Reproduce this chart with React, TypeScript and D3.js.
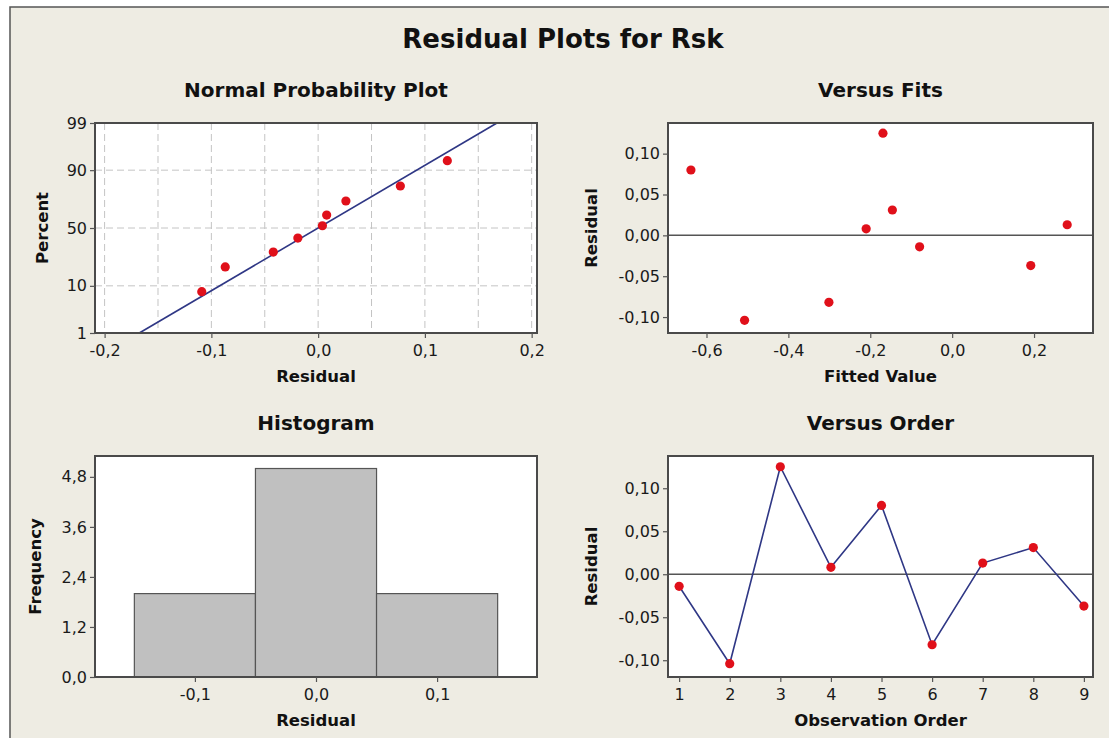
import * as d3 from "d3"
import { useEffect, useRef } from "react"

const observations = [1, 2, 3, 4, 5, 6, 7, 8, 9]
const residuals = [-0.014, -0.104, 0.125, 0.008, 0.08, -0.082, 0.013, 0.031, -0.037]
const fittedValues = [-0.0795, -0.507, -0.169, -0.21, -0.638, -0.301, 0.281, -0.146, 0.192]

// normal probability plot points
const probResiduals = [-0.109, -0.087, -0.042, -0.019, 0.004, 0.008, 0.026, 0.077, 0.121]
const probPercents = [7.9, 19.4, 29.7, 41.2, 52, 61.3, 72.5, 82.4, 93.2]
const fitMean = 0
const fitSd = 0.072

// histogram
const histBins = [
  [-0.15, -0.05],
  [-0.05, 0.05],
  [0.05, 0.15],
]
const histCounts = [2, 5, 2]

// ticks
const percentTicks = [1, 10, 50, 90, 99]
const percentGrid = [10, 50, 90]
const probXTicks = [-0.2, -0.1, 0, 0.1, 0.2]
const probXGrid = [-0.2, -0.15, -0.1, -0.05, 0, 0.05, 0.1, 0.15, 0.2]
const fitTicks = [-0.6, -0.4, -0.2, 0, 0.2]
const residualTicks = [-0.1, -0.05, 0, 0.05, 0.1]
const histXTicks = [-0.1, 0, 0.1]
const freqTicks = [0, 1.2, 2.4, 3.6, 4.8]

const W = 1109
const H = 738
const FONT = "'DejaVu Sans', Verdana, sans-serif"
const BG = "#eeece3"
const RED = "#e0101a"
const BLUE = "#2f3785"

const locale = d3.formatLocale({
  decimal: ",",
  thousands: ".",
  grouping: [3],
  currency: ["", ""],
  minus: "-",
})
const f1 = locale.format(".1f")
const f2 = locale.format(".2f")

// inverse normal cdf (Acklam)
const probit = (p: number) => {
  const a = [-39.69683028665376, 220.9460984245205, -275.9285104469687, 138.357751867269, -30.66479806614716, 2.506628277459239]
  const b = [-54.47609879822406, 161.5858368580409, -155.6989798598866, 66.80131188771972, -13.28068155288572]
  const c = [-0.007784894002430293, -0.3223964580411365, -2.400758277161838, -2.549732539343734, 4.374664141464968, 2.938163982698783]
  const d = [0.007784695709041462, 0.3224671290700398, 2.445134137142996, 3.754408661907416]
  const pl = 0.02425
  if (p < pl || p > 1 - pl) {
    const q = Math.sqrt(-2 * Math.log(p < pl ? p : 1 - p))
    const v =
      (((((c[0] * q + c[1]) * q + c[2]) * q + c[3]) * q + c[4]) * q + c[5]) /
      ((((d[0] * q + d[1]) * q + d[2]) * q + d[3]) * q + 1)
    return p < pl ? v : -v
  }
  const q = p - 0.5
  const r = q * q
  return (
    ((((((a[0] * r + a[1]) * r + a[2]) * r + a[3]) * r + a[4]) * r + a[5]) * q) /
    (((((b[0] * r + b[1]) * r + b[2]) * r + b[3]) * r + b[4]) * r + 1)
  )
}

type Box = { left: number; right: number; top: number; bottom: number }

const App = () => {
  const svgRef = useRef<SVGSVGElement>(null)

  useEffect(() => {
    if (!svgRef.current) return
    const svg = d3.select(svgRef.current)
    svg.selectAll("*").remove()

    svg.append("rect").attr("width", W).attr("height", H).attr("fill", "#fff")
    svg
      .append("rect")
      .attr("x", 10)
      .attr("y", 7)
      .attr("width", 1110)
      .attr("height", 745)
      .attr("fill", BG)
      .attr("stroke", "#555")
      .attr("stroke-width", 1.5)

    svg
      .append("text")
      .attr("x", 563)
      .attr("y", 48)
      .attr("text-anchor", "middle")
      .attr("font-family", FONT)
      .attr("font-weight", "bold")
      .attr("font-size", "26px")
      .attr("fill", "#111")
      .text("Residual Plots for Rsk")

    // draws panel background, title, axes, labels; returns group for marks
    const panel = (
      box: Box,
      title: string,
      xLabel: string,
      yLabel: string,
      yLabelX: number,
      xScale: d3.ScaleLinear<number, number>,
      yScale: d3.ScaleLinear<number, number>,
      xTicks: number[],
      yTicks: number[],
      xFmt: (d: number) => string,
      yFmt: (d: number) => string,
      drawMarks: (g: d3.Selection<SVGGElement, unknown, null, undefined>) => void,
    ) => {
      const g = svg.append("g")
      g.append("rect")
        .attr("x", box.left)
        .attr("y", box.top)
        .attr("width", box.right - box.left)
        .attr("height", box.bottom - box.top)
        .attr("fill", "#fff")

      drawMarks(g)

      g.append("rect")
        .attr("x", box.left)
        .attr("y", box.top)
        .attr("width", box.right - box.left)
        .attr("height", box.bottom - box.top)
        .attr("fill", "none")
        .attr("stroke", "#4a4a4a")
        .attr("stroke-width", 2)

      const xAxis = g
        .append("g")
        .attr("transform", `translate(0, ${box.bottom})`)
        .call(
          d3
            .axisBottom(xScale)
            .tickValues(xTicks)
            .tickFormat((d) => xFmt(+d))
            .tickSize(5)
            .tickSizeOuter(0)
            .tickPadding(7),
        )
      const yAxis = g
        .append("g")
        .attr("transform", `translate(${box.left}, 0)`)
        .call(
          d3
            .axisLeft(yScale)
            .tickValues(yTicks)
            .tickFormat((d) => yFmt(+d))
            .tickSize(5)
            .tickSizeOuter(0)
            .tickPadding(3),
        )
      ;[xAxis, yAxis].forEach((a) => {
        a.select(".domain").remove()
        a.selectAll("line").attr("stroke", "#555").attr("stroke-width", 1.2)
        a.selectAll("text")
          .attr("font-family", FONT)
          .attr("font-size", "16px")
          .attr("fill", "#1a1a1a")
      })

      const cx = (box.left + box.right) / 2
      g.append("text")
        .attr("x", cx)
        .attr("y", box.top - 26)
        .attr("text-anchor", "middle")
        .attr("font-family", FONT)
        .attr("font-weight", "bold")
        .attr("font-size", "20px")
        .attr("fill", "#111")
        .text(title)

      g.append("text")
        .attr("x", cx)
        .attr("y", box.bottom + 49)
        .attr("text-anchor", "middle")
        .attr("font-family", FONT)
        .attr("font-weight", "bold")
        .attr("font-size", "16.5px")
        .attr("fill", "#111")
        .text(xLabel)

      g.append("text")
        .attr("transform", `translate(${yLabelX}, ${(box.top + box.bottom) / 2}) rotate(-90)`)
        .attr("text-anchor", "middle")
        .attr("font-family", FONT)
        .attr("font-weight", "bold")
        .attr("font-size", "16.5px")
        .attr("fill", "#111")
        .text(yLabel)
    }

    const dots = (
      g: d3.Selection<SVGGElement, unknown, null, undefined>,
      xs: number[],
      ys: number[],
      x: (v: number) => number,
      y: (v: number) => number,
    ) => {
      g.selectAll(null)
        .data(xs)
        .join("circle")
        .attr("cx", (d) => x(d))
        .attr("cy", (_, i) => y(ys[i]))
        .attr("r", 4.6)
        .attr("fill", RED)
    }

    // Normal probability plot
    const probBox = { left: 95, right: 537, top: 123, bottom: 333 }
    const probX = d3.scaleLinear().domain([-0.209, 0.205]).range([probBox.left, probBox.right])
    const zScale = d3
      .scaleLinear()
      .domain([probit(0.01), probit(0.99)])
      .range([probBox.bottom, probBox.top])
    const probY = d3
      .scaleLinear()
      .domain([0, 100])
      .range([0, 1])
    const pctY = (p: number) => zScale(probit(probY(p)))
    const pctScale = d3.scaleLinear().domain([1, 99]).range([probBox.bottom, probBox.top])
    // axisLeft needs a scale: map ticks through the probit transform by a custom scale
    const pctAxisScale = Object.assign((v: number) => pctY(v), pctScale, {
      copy: () => pctAxisScale,
    }) as unknown as d3.ScaleLinear<number, number>

    panel(
      probBox,
      "Normal Probability Plot",
      "Residual",
      "Percent",
      48,
      probX,
      pctAxisScale,
      probXTicks,
      percentTicks,
      f1,
      (d) => String(d),
      (g) => {
        g.selectAll(null)
          .data(probXGrid)
          .join("line")
          .attr("x1", (d) => probX(d))
          .attr("x2", (d) => probX(d))
          .attr("y1", probBox.top)
          .attr("y2", probBox.bottom)
          .attr("stroke", "#c4c4c4")
          .attr("stroke-width", 1)
          .attr("stroke-dasharray", "7,4")
        g.selectAll(null)
          .data(percentGrid)
          .join("line")
          .attr("x1", probBox.left)
          .attr("x2", probBox.right)
          .attr("y1", (d) => pctY(d))
          .attr("y2", (d) => pctY(d))
          .attr("stroke", "#c4c4c4")
          .attr("stroke-width", 1)
          .attr("stroke-dasharray", "7,4")
        const zs = [probit(0.01), probit(0.99)]
        g.append("path")
          .datum(zs)
          .attr("fill", "none")
          .attr("stroke", BLUE)
          .attr("stroke-width", 1.6)
          .attr(
            "d",
            d3
              .line<number>()
              .x((z) => probX(fitMean + z * fitSd))
              .y((z) => zScale(z)),
          )
        dots(g, probResiduals, probPercents, probX, pctY)
      },
    )

    // Versus Fits
    const fitsBox = { left: 668, right: 1093, top: 123, bottom: 333 }
    const fitsX = d3.scaleLinear().domain([-0.694, 0.344]).range([fitsBox.left, fitsBox.right])
    const fitsY = d3.scaleLinear().domain([-0.1195, 0.1375]).range([fitsBox.bottom, fitsBox.top])
    panel(
      fitsBox,
      "Versus Fits",
      "Fitted Value",
      "Residual",
      597,
      fitsX,
      fitsY,
      fitTicks,
      residualTicks,
      f1,
      f2,
      (g) => {
        g.append("line")
          .attr("x1", fitsBox.left)
          .attr("x2", fitsBox.right)
          .attr("y1", fitsY(0))
          .attr("y2", fitsY(0))
          .attr("stroke", "#555")
          .attr("stroke-width", 1.5)
        dots(g, fittedValues, residuals, fitsX, fitsY)
      },
    )

    // Histogram
    const histBox = { left: 95, right: 537, top: 456, bottom: 677 }
    const histX = d3.scaleLinear().domain([-0.1825, 0.1825]).range([histBox.left, histBox.right])
    const histY = d3.scaleLinear().domain([0, 5.3]).range([histBox.bottom, histBox.top])
    panel(
      histBox,
      "Histogram",
      "Residual",
      "Frequency",
      41,
      histX,
      histY,
      histXTicks,
      freqTicks,
      f1,
      f1,
      (g) => {
        g.selectAll(null)
          .data(histBins)
          .join("rect")
          .attr("x", (d) => histX(d[0]))
          .attr("width", (d) => histX(d[1]) - histX(d[0]))
          .attr("y", (_, i) => histY(histCounts[i]))
          .attr("height", (_, i) => histY(0) - histY(histCounts[i]))
          .attr("fill", "#c0c0c0")
          .attr("stroke", "#555")
          .attr("stroke-width", 1.2)
      },
    )

    // Versus Order
    const orderBox = { left: 668, right: 1093, top: 456, bottom: 677 }
    const orderX = d3.scaleLinear().domain([0.78, 9.18]).range([orderBox.left, orderBox.right])
    const orderY = d3.scaleLinear().domain([-0.1195, 0.1375]).range([orderBox.bottom, orderBox.top])
    panel(
      orderBox,
      "Versus Order",
      "Observation Order",
      "Residual",
      597,
      orderX,
      orderY,
      observations,
      residualTicks,
      (d) => String(d),
      f2,
      (g) => {
        g.append("line")
          .attr("x1", orderBox.left)
          .attr("x2", orderBox.right)
          .attr("y1", orderY(0))
          .attr("y2", orderY(0))
          .attr("stroke", "#555")
          .attr("stroke-width", 1.5)
        g.append("path")
          .datum(observations)
          .attr("fill", "none")
          .attr("stroke", BLUE)
          .attr("stroke-width", 1.6)
          .attr(
            "d",
            d3
              .line<number>()
              .x((d) => orderX(d))
              .y((_, i) => orderY(residuals[i])),
          )
        dots(g, observations, residuals, orderX, orderY)
      },
    )
  }, [])

  return (
    <div style={{ position: "absolute", left: 0, top: 0 }}>
      <svg ref={svgRef} width={W} height={H} style={{ display: "block" }} />
    </div>
  )
}

export default App
